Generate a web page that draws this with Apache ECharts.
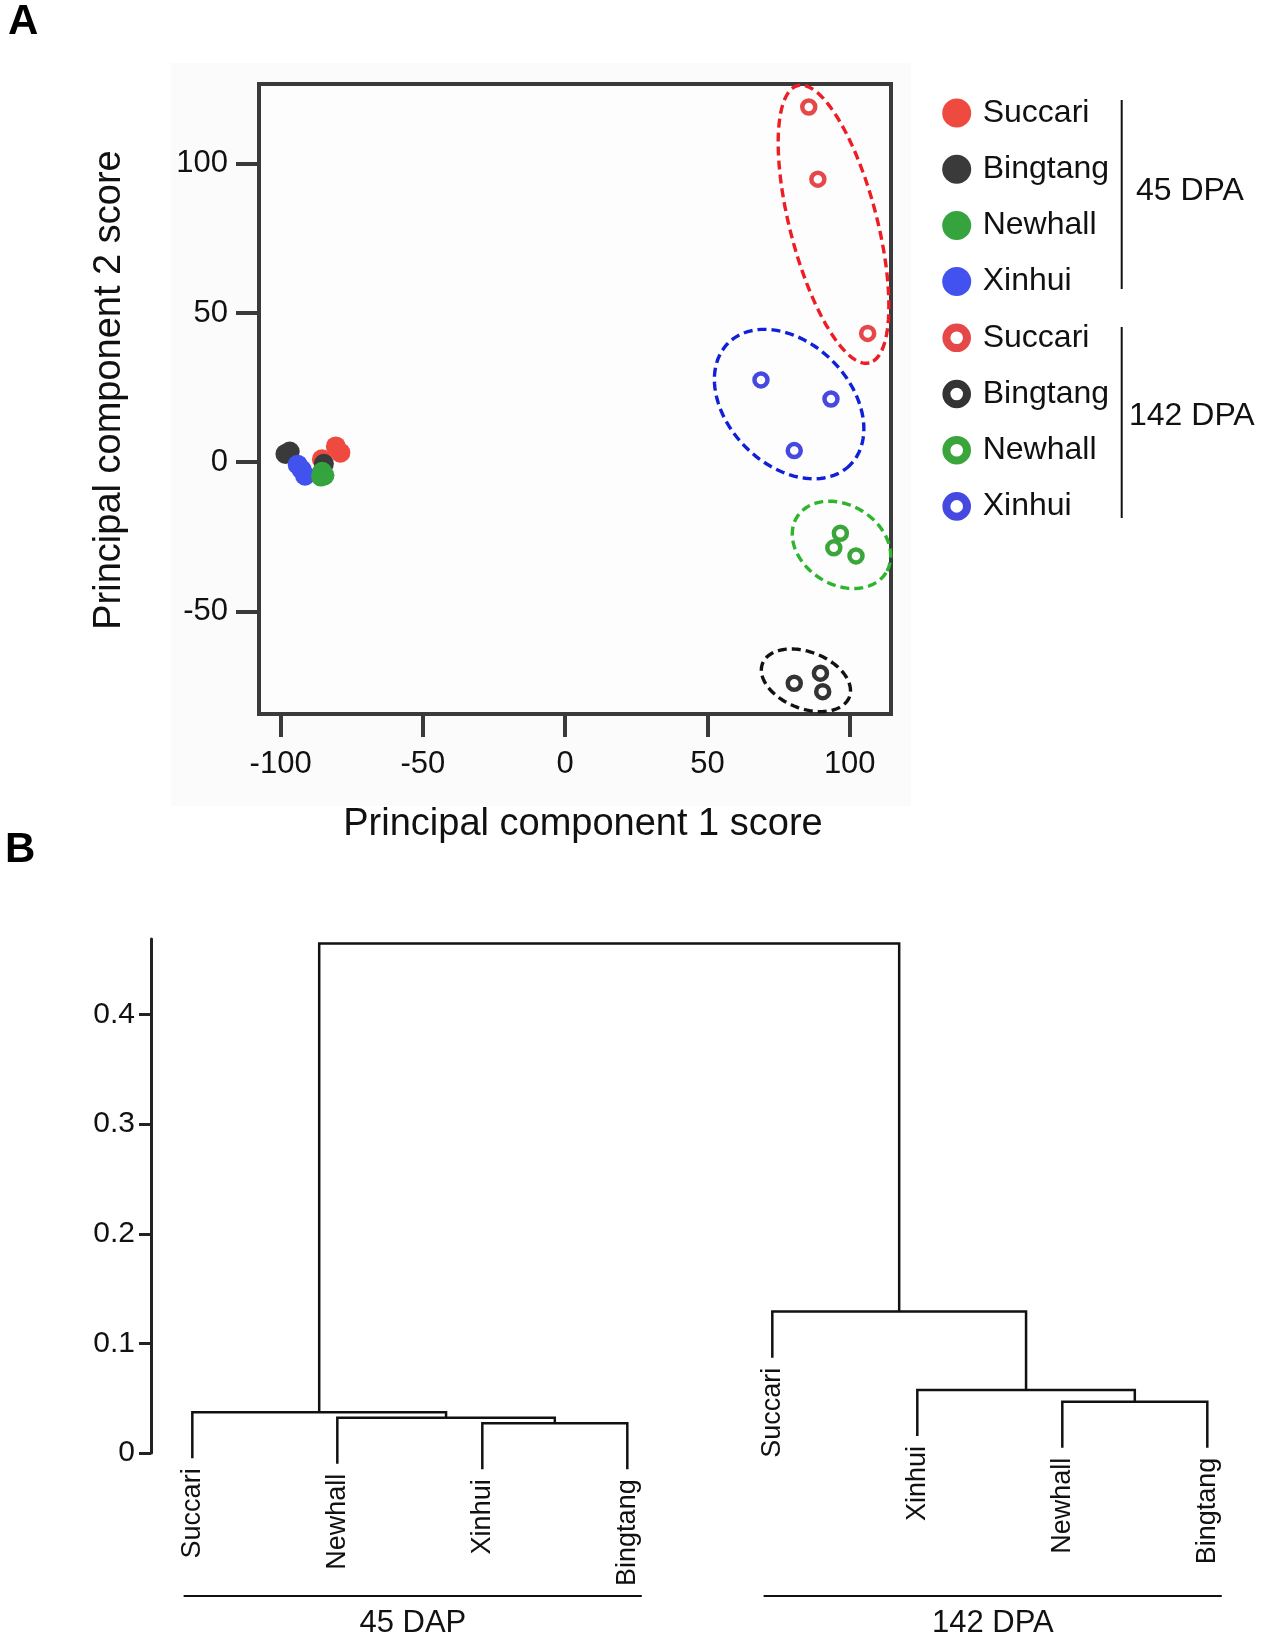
<!DOCTYPE html>
<html>
<head>
<meta charset="utf-8">
<title>PCA scores and cluster dendrogram</title>
<script src="https://cdn.jsdelivr.net/npm/echarts@6/dist/echarts.min.js"></script>
<style>
  html, body { margin: 0; padding: 0; background: #fff; }
  #chart { width: 1267px; height: 1641px; }
</style>
</head>
<body>
<div id="chart"></div>
<script>
// ---------- data ----------
var cultivars = ['Succari', 'Bingtang', 'Newhall', 'Xinhui'];
var filledColors = ['#ef4a40', '#3a3a3a', '#35a33e', '#4152ee'];
var ringColors = ['#e6484a', '#333333', '#3aa53a', '#4549e0'];
var ellipseColors = ['#ee1c24', '#111111', '#2db52d', '#1020d8'];

// PCA scores (PC1, PC2), 45 DPA
var pca45Succari = [[-80.6, 5.3], [-79.0, 3.2], [-85.5, 1.0]];
var pca45Bingtang = [[-98.3, 2.8], [-96.8, 3.6], [-84.8, -0.5]];
var pca45Newhall = [[-85.4, -3.2], [-84.6, -4.4], [-85.8, -4.8]];
var pca45Xinhui = [[-94.0, -0.8], [-92.6, -2.5], [-91.4, -4.5]];
// PCA scores (PC1, PC2), 142 DPA
var pca142Succari = [[85.6, 119.1], [88.8, 94.9], [106.3, 43.2]];
var pca142Bingtang = [[89.7, -70.7], [80.5, -74.1], [90.5, -76.9]];
var pca142Newhall = [[96.7, -23.8], [94.4, -28.7], [102.2, -31.4]];
var pca142Xinhui = [[68.8, 27.6], [93.4, 21.2], [80.5, 3.9]];

// cluster ellipses: centre x, centre y, semi-major, semi-minor (PC2 units), tilt (deg)
var ellipseSuccari = [94.3, 79.8, 48.0, 14.6, 75.5];
var ellipseBingtang = [84.6, -73.1, 15.6, 9.5, 21.2];
var ellipseNewhall = [97.1, -27.7, 17.6, 13.3, 32];
var ellipseXinhui = [78.7, 19.5, 28.9, 20.5, 45];

var xTicksA = [-100, -50, 0, 50, 100];
var yTicksA = [-50, 0, 50, 100];

// dendrogram (hclust style: negative = leaf number, positive = merge number)
var leafLabels = ['Succari', 'Newhall', 'Xinhui', 'Bingtang', 'Succari', 'Xinhui', 'Newhall', 'Bingtang'];
var mergePairs = [[-3, -4], [-2, 1], [-1, 2], [-7, -8], [-6, 4], [-5, 5], [3, 6]];
var mergeHeights = [0.0271, 0.0322, 0.0371, 0.0468, 0.0575, 0.129, 0.465];
var leafHang = 0.042;
var yTicksB = [0, 0.1, 0.2, 0.3, 0.4];
var groupNames = ['45 DAP', '142 DPA'];
var groupLeaves = [[1, 4], [5, 8]];

// ---------- build ----------
var FONT = '"Liberation Sans", Arial, Helvetica, sans-serif';
var pca45 = [pca45Succari, pca45Bingtang, pca45Newhall, pca45Xinhui];
var pca142 = [pca142Succari, pca142Bingtang, pca142Newhall, pca142Xinhui];
var ellipses = [ellipseSuccari, ellipseBingtang, ellipseNewhall, ellipseXinhui];

/**dendrogram links and leaf bottoms*/
var mergeX = [], links = [], leafBottom = {};
function nodeOf(ref) {
	if(ref < 0) return { x: -ref, h: null, leaf: -ref };
	return { x: mergeX[ref - 1], h: mergeHeights[ref - 1] };
}
mergePairs.forEach(function(pair, i) {
	var h = mergeHeights[i],
		l = nodeOf(pair[0]),
		r = nodeOf(pair[1]);
	var yl = l.h === null ? h - leafHang : l.h;
	var yr = r.h === null ? h - leafHang : r.h;
	if(l.leaf) leafBottom[l.leaf] = yl;
	if(r.leaf) leafBottom[r.leaf] = yr;
	mergeX.push((l.x + r.x) / 2);
	links.push([[l.x, yl], [l.x, h], [r.x, h], [r.x, yr]]);
});

var series = [];
// 45 DPA filled, drawn in picture order
[0, 1, 3, 2].forEach(function(k) {
	series.push({
		type: 'scatter', name: cultivars[k] + ' 45 DPA',
		xAxisIndex: 0, yAxisIndex: 0,
		data: pca45[k], symbol: 'circle', symbolSize: 20,
		itemStyle: { color: filledColors[k], opacity: 1 },
		z: 3
	});
});
// 142 DPA open rings
[0, 1, 2, 3].forEach(function(k) {
	series.push({
		type: 'scatter', name: cultivars[k] + ' 142 DPA',
		xAxisIndex: 0, yAxisIndex: 0,
		data: pca142[k], symbol: 'circle', symbolSize: 13,
		itemStyle: { color: 'rgba(0,0,0,0)', borderColor: ringColors[k], borderWidth: 4.5, opacity: 1 },
		z: 4
	});
});
// dashed cluster ellipses
series.push({
	type: 'custom', xAxisIndex: 0, yAxisIndex: 0,
	data: ellipses.map(function(e) { return [e[0], e[1]]; }),
	encode: { x: 0, y: 1 },
	clip: false, z: 2, silent: true,
	renderItem: function(params, api) {
		var e = ellipses[params.dataIndex],
			c = api.coord([e[0], e[1]]),
			s = api.size([0, 1])[1],
			a = e[2] * s, b = e[3] * s,
			phi = e[4] * Math.PI / 180,
			pts = [];
		for(var i = 0; i < 120; i++) {
			var t = i / 120 * Math.PI * 2;
			pts.push([
				c[0] + a * Math.cos(t) * Math.cos(phi) - b * Math.sin(t) * Math.sin(phi),
				c[1] + a * Math.cos(t) * Math.sin(phi) + b * Math.sin(t) * Math.cos(phi)
			]);
		}
		return {
			type: 'polygon', shape: { points: pts },
			style: { fill: 'none', stroke: ellipseColors[params.dataIndex], lineWidth: 3.4, lineDash: [9, 5] }
		};
	}
});
// dendrogram links
series.push({
	type: 'custom', xAxisIndex: 1, yAxisIndex: 1,
	data: links.map(function(l) { return [l[1][0], l[1][1]]; }),
	encode: { x: 0, y: 1 },
	clip: false, silent: true,
	renderItem: function(params, api) {
		var pts = links[params.dataIndex].map(function(p) { return api.coord(p); });
		return { type: 'polyline', shape: { points: pts }, style: { fill: 'none', stroke: '#111', lineWidth: 2.5 } };
	}
});
// leaf labels
series.push({
	type: 'custom', xAxisIndex: 1, yAxisIndex: 1,
	data: leafLabels.map(function(n, i) { return [i + 1, leafBottom[i + 1]]; }),
	encode: { x: 0, y: 1 },
	clip: false, silent: true,
	renderItem: function(params, api) {
		var p = api.coord([params.dataIndex + 1, leafBottom[params.dataIndex + 1]]);
		return {
			type: 'text', x: p[0], y: p[1] + 10, rotation: Math.PI / 2,
			style: { text: leafLabels[params.dataIndex], fill: '#111', font: '27px ' + FONT, align: 'right', verticalAlign: 'middle' }
		};
	}
});
// group brackets under the dendrogram
series.push({
	type: 'custom', xAxisIndex: 1, yAxisIndex: 1,
	data: groupLeaves.map(function(g) { return [g[0], 0]; }),
	encode: { x: 0, y: 1 },
	clip: false, silent: true,
	renderItem: function(params, api) {
		var g = groupLeaves[params.dataIndex],
			p1 = api.coord([g[0] - 0.06, 0]),
			p2 = api.coord([g[1] + 0.1, 0]),
			mid = api.coord([(g[0] + g[1]) / 2, 0]);
		return {
			type: 'group',
			children: [{
				type: 'line', shape: { x1: p1[0], y1: p1[1] + 143, x2: p2[0], y2: p2[1] + 143 },
				style: { stroke: '#111', lineWidth: 2 }
			}, {
				type: 'text', x: mid[0] + 3, y: mid[1] + 170,
				style: { text: groupNames[params.dataIndex], fill: '#111', font: '31px ' + FONT, align: 'center', verticalAlign: 'middle' }
			}]
		};
	}
});

/**legend and free text*/
var graphics = [
	{ type: 'rect', z: -10, shape: { x: 171, y: 63, width: 740, height: 743 }, style: { fill: '#fbfbfb' } },
	{ type: 'rect', z: -9, shape: { x: 259, y: 84, width: 632, height: 630 }, style: { fill: '#fdfdfd' } },
	{ type: 'text', x: 8, y: 22, style: { text: 'A', font: 'bold 42px ' + FONT, fill: '#000', verticalAlign: 'middle' } },
	{ type: 'text', x: 5, y: 850, style: { text: 'B', font: 'bold 42px ' + FONT, fill: '#000', verticalAlign: 'middle' } },
	{ type: 'text', x: 110, y: 390, rotation: Math.PI / 2,
		style: { text: 'Principal component 2 score', font: '38px ' + FONT, fill: '#111', align: 'center', verticalAlign: 'middle' } },
	{ type: 'text', x: 583, y: 825,
		style: { text: 'Principal component 1 score', font: '38px ' + FONT, fill: '#111', align: 'center', verticalAlign: 'middle' } },
	{ type: 'line', shape: { x1: 1121.7, y1: 100, x2: 1121.7, y2: 289 }, style: { stroke: '#111', lineWidth: 2 } },
	{ type: 'line', shape: { x1: 1121.7, y1: 327, x2: 1121.7, y2: 518 }, style: { stroke: '#111', lineWidth: 2 } },
	{ type: 'text', x: 1136, y: 191, style: { text: '45 DPA', font: '32px ' + FONT, fill: '#111', verticalAlign: 'middle' } },
	{ type: 'text', x: 1129, y: 416, style: { text: '142 DPA', font: '32px ' + FONT, fill: '#111', verticalAlign: 'middle' } }
];
cultivars.forEach(function(name, k) {
	var y1 = 113 + k * 56.2, y2 = 113 + (k + 4) * 56.2;
	graphics.push({ type: 'circle', shape: { cx: 956.7, cy: y1, r: 14.5 }, style: { fill: filledColors[k] } });
	graphics.push({ type: 'text', x: 982.7, y: y1, style: { text: name, font: '32px ' + FONT, fill: '#111', verticalAlign: 'middle' } });
	graphics.push({ type: 'circle', shape: { cx: 956.7, cy: y2, r: 10.3 }, style: { fill: 'none', stroke: ringColors[k], lineWidth: 8 } });
	graphics.push({ type: 'text', x: 982.7, y: y2, style: { text: name, font: '32px ' + FONT, fill: '#111', verticalAlign: 'middle' } });
});

var axisDark = '#3a3a3a';
var option = {
	animation: false,
	backgroundColor: '#fff',
	textStyle: { fontFamily: FONT },
	grid: [
		{ left: 259, top: 84, width: 632, height: 630, show: true, borderColor: axisDark, borderWidth: 4, backgroundColor: 'transparent' },
		{ left: 151, top: 939, width: 1099.8, height: 514 }
	],
	xAxis: [{
		gridIndex: 0, type: 'value', min: -107.6, max: 114.5,
		axisLine: { show: true, onZero: false, lineStyle: { color: axisDark, width: 4 } },
		axisTick: { show: true, length: 23, customValues: xTicksA, lineStyle: { color: axisDark, width: 4 } },
		axisLabel: { customValues: xTicksA, fontSize: 31, color: '#111', margin: 35, fontFamily: FONT },
		splitLine: { show: false }
	}, {
		gridIndex: 1, type: 'value', min: 0.715, max: 8.3, show: false
	}],
	yAxis: [{
		gridIndex: 0, type: 'value', min: -84.4, max: 126.8,
		axisLine: { show: true, onZero: false, lineStyle: { color: axisDark, width: 4 } },
		axisTick: { show: true, length: 23, customValues: yTicksA, lineStyle: { color: axisDark, width: 4 } },
		axisLabel: { customValues: yTicksA, fontSize: 31, color: '#111', margin: 31, fontFamily: FONT },
		splitLine: { show: false }
	}, {
		gridIndex: 1, type: 'value', min: 0, max: 0.469,
		axisLine: { show: true, onZero: false, lineStyle: { color: '#222', width: 3 } },
		axisTick: { show: true, length: 12, customValues: yTicksB, lineStyle: { color: '#222', width: 3 } },
		axisLabel: { customValues: yTicksB, fontSize: 30, color: '#111', margin: 16, fontFamily: FONT },
		splitLine: { show: false }
	}],
	graphic: graphics,
	series: series
};

var chart = echarts.init(document.getElementById('chart'));
chart.setOption(option);
</script>
</body>
</html>
